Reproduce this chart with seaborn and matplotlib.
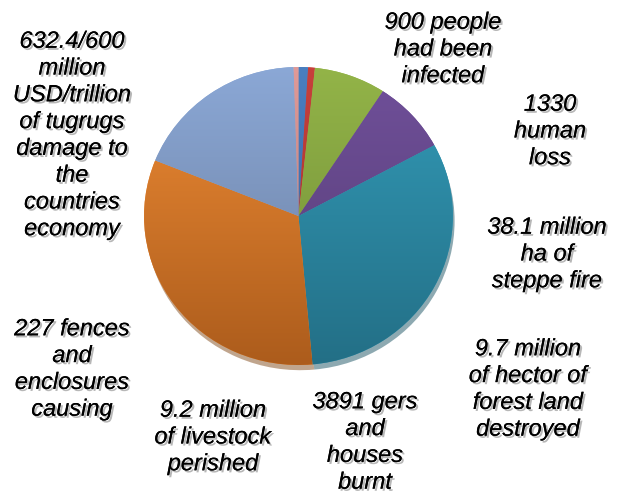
import numpy as np
import seaborn as sns
import matplotlib.pyplot as plt
import matplotlib.patheffects as pe
from matplotlib.colors import to_rgb

# slice shares, clockwise from 12 o'clock
values = [1.0, 0.7, 7.5, 7.9, 31.4, 32.5, 18.4, 0.5]
labels = [
    "900 people\nhad been\ninfected",
    "1330\nhuman\nloss",
    "38.1 million\nha of\nsteppe fire",
    "9.7 million\nof hector of\nforest land\ndestroyed",
    "3891 gers\nand\nhouses\nburnt",
    "9.2 million\nof livestock\nperished",
    "227 fences\nand\nenclosures\ncausing",
    "632.4/600\nmillion\nUSD/trillion\nof tugrugs\ndamage to\nthe\ncountries\neconomy",
]
# where each label box sits (pixels of the 629x493 picture)
label_pos = [(443, 49), (550, 131), (547, 254), (528, 389),
             (365, 442), (213, 437), (72, 369), (72, 135)]

# top / bottom colours for the vertical gradient of each slice
top_cols = ["#4a7fc0", "#c8403c", "#93b448", "#70509a", "#339bb8",
            "#ef8c35", "#8ba8d6", "#e09a98"]
bot_cols = ["#34609a", "#9a2e2b", "#6e8a36", "#553c74", "#236f86",
            "#ac5c1c", "#6a7d9e", "#b07472"]

sns.set_theme(style="white")
plt.rcParams['font.family'] = ['Liberation Sans', 'DejaVu Sans']

fig = plt.figure(figsize=(6.29, 4.93), dpi=100)
ax = fig.add_axes([0.229, 0.2596, 0.491, 0.6045])

wedges, _ = ax.pie(values, startangle=90, counterclock=False,
                   colors=top_cols, wedgeprops=dict(linewidth=0),
                   shadow=dict(ox=0.008, oy=-0.025, shade=0.45))
ax.set_aspect('auto')

# vertical light-to-dark gradient clipped to each wedge
t = np.linspace(0, 1, 256)[:, None]
for w, c1, c2 in zip(wedges, top_cols, bot_cols):
    a, b = np.array(to_rgb(c1)), np.array(to_rgb(c2))
    img = (a * (1 - t) + b * t)[:, None, :]
    im = ax.imshow(img, extent=(-1, 1, -1, 1), aspect='auto', zorder=w.get_zorder() + 0.1)
    im.set_clip_path(w)
ax.set_xlim(-1, 1)
ax.set_ylim(-1, 1)
ax.axis('off')

shadow = [pe.withSimplePatchShadow(offset=(1.5, -1.5), shadow_rgbFace='#888888', alpha=0.6),
          pe.Normal()]
for txt, (px, py) in zip(labels, label_pos):
    fig.text(px / 629, 1 - py / 493, txt, ha='center', va='center',
             multialignment='center', fontsize=17, style='italic',
             linespacing=1.21, color='black', path_effects=shadow)

fig.savefig('out.png', dpi=100)
